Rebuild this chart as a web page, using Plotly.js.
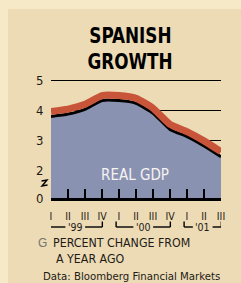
<!DOCTYPE html>
<html>
<head>
<meta charset="utf-8">
<script src="https://cdn.plot.ly/plotly-3.0.1.min.js"></script>
<style>
html,body{margin:0;padding:0;background:#f6e9c8;}
#chart{width:241px;height:283px;}
</style>
</head>
<body>
<div id="chart"></div>
<script>
// ---- data ----
const quarters = ['I','II','III','IV','I','II','III','IV','I','II','III'];
const quarterYear = ["'99","'99","'99","'99","'00","'00","'00","'00","'01","'01","'01"];
const gdp = [3.8, 3.88, 4.04, 4.33, 4.33, 4.24, 3.91, 3.37, 3.13, 2.82, 2.46];
const yTickLabels = ['0','2','3','4','5'];
const yTickNumbers = [null, 2, 3, 4, 5]; // first tick is the broken-axis zero

// ---- layout constants ----
const W = 241, H = 283;
const L = 51, R = 221, T = 75, B = 198;
const yBottom = 1.083, yTop = 5.183;
const shadowOffset = 0.167;
const NARROW = "'DejaVu Sans Condensed', 'Liberation Sans Narrow', Lato, sans-serif";
const TEXT = '#1e1a16';

const px2x = px => (px - L) / (R - L);
const px2y = py => (B - py) / (B - T);

const xIdx = quarters.map((_, i) => i);
const yTickVals = yTickNumbers.map(v => v === null ? yBottom : v);

const traces = [
  {
    x: xIdx, y: gdp, type: 'scatter', mode: 'lines',
    fill: 'tozeroy', fillcolor: '#8a92b1',
    line: {color: '#000', width: 3, shape: 'spline', smoothing: 0.5},
    hoverinfo: 'skip', showlegend: false
  },
  {
    x: xIdx, y: gdp, type: 'scatter', mode: 'lines', yaxis: 'y2',
    line: {color: '#c8553a', width: 7, shape: 'spline', smoothing: 0.5},
    hoverinfo: 'skip', showlegend: false
  }
];

const shapes = [
  {type:'rect', xref:'paper', yref:'paper', layer:'below',
   x0: px2x(8), x1: px2x(W + 2), y0: px2y(9), y1: px2y(H + 2),
   fillcolor:'#ecdbb5', line:{width:0}},
  // axis-break symbol
  {type:'path', xref:'paper', yref:'paper',
   path: `M ${px2x(41.5)},${px2y(181)} L ${px2x(47)},${px2y(180)} L ${px2x(42)},${px2y(186)} L ${px2x(47.5)},${px2y(185)}`,
   line:{color:'#000', width:1.4}}
];
const annotations = [];
const yearNames = [...new Set(quarterYear)];
const brTop = px2y(221.5), brMid = px2y(227), yrText = px2y(226.7);
yearNames.forEach(yr => {
  const idx = xIdx.filter(i => quarterYear[i] === yr);
  const x0 = idx[0] - 0.17, x1 = idx[idx.length - 1] + 0.02;
  const c = (x0 + x1) / 2;
  const gap = 0.58;
  const line = {color:'#000', width:1.4};
  shapes.push({type:'line', xref:'x', yref:'paper', x0:x0, x1:x0, y0:brTop, y1:brMid, line});
  shapes.push({type:'line', xref:'x', yref:'paper', x0:x0, x1:c - gap, y0:brMid, y1:brMid, line});
  shapes.push({type:'line', xref:'x', yref:'paper', x0:c + gap, x1:x1, y0:brMid, y1:brMid, line});
  shapes.push({type:'line', xref:'x', yref:'paper', x0:x1, x1:x1, y0:brTop, y1:brMid, line});
  annotations.push({xref:'x', yref:'paper', x:c, y:yrText, text:yr, showarrow:false,
    xanchor:'center', yanchor:'middle', font:{family:NARROW, size:10.5, color:TEXT}});
});

annotations.push(
  {xref:'paper', yref:'paper', x:px2x(130), y:px2y(35), text:'<b>SPANISH</b>', showarrow:false,
   xanchor:'center', yanchor:'middle', borderpad:0,
   font:{family:NARROW, size:22, color:'#000'}},
  {xref:'paper', yref:'paper', x:px2x(130), y:px2y(61.5), text:'<b>GROWTH</b>', showarrow:false,
   xanchor:'center', yanchor:'middle', borderpad:0,
   font:{family:NARROW, size:22, color:'#000'}},
  {xref:'paper', yref:'paper', x:px2x(135), y:px2y(174.5), text:'REAL GDP', showarrow:false,
   xanchor:'center', yanchor:'middle', font:{family:NARROW, size:15, color:'#f6f2f2'}},
  {xref:'paper', yref:'paper', x:px2x(35.5), y:px2y(243.3), text:'G', showarrow:false,
   xanchor:'left', yanchor:'middle', font:{family:"'Liberation Sans', sans-serif", size:12, color:'#77736e'}},
  {xref:'paper', yref:'paper', x:px2x(50.5), y:px2y(243.3), text:'PERCENT CHANGE FROM', showarrow:false,
   xanchor:'left', yanchor:'middle', font:{family:NARROW, size:12.3, color:TEXT}},
  {xref:'paper', yref:'paper', x:px2x(54), y:px2y(259), text:'A YEAR AGO', showarrow:false,
   xanchor:'left', yanchor:'middle', font:{family:NARROW, size:12.3, color:TEXT}},
  {xref:'paper', yref:'paper', x:px2x(40.5), y:px2y(276), text:'Data: Bloomberg Financial Markets', showarrow:false,
   xanchor:'left', yanchor:'middle', font:{family:NARROW, size:11.3, color:TEXT}}
);

const layout = {
  width: W, height: H,
  margin: {l: L, r: W - R, t: T, b: H - B, pad: 0},
  paper_bgcolor: '#f6e9c8',
  plot_bgcolor: 'rgba(0,0,0,0)',
  showlegend: false,
  xaxis: {
    range: [0, quarters.length - 1], tickvals: xIdx, ticktext: quarters,
    ticks: 'inside', ticklen: 9, tickwidth: 2, tickcolor: '#000',
    showline: true, linecolor: '#000', linewidth: 3,
    showgrid: false, zeroline: false, fixedrange: true,
    tickfont: {family: NARROW, size: 10.5, color: TEXT},
    ticklabelstandoff: 6
  },
  yaxis: {
    range: [yBottom, yTop], tickvals: yTickVals, ticktext: yTickLabels,
    ticks: 'outside', ticklen: 4, tickcolor: 'rgba(0,0,0,0)',
    showgrid: true, gridcolor: '#000', gridwidth: 1.2,
    showline: false, zeroline: false, fixedrange: true,
    tickfont: {family: NARROW, size: 13, color: TEXT}
  },
  yaxis2: {
    overlaying: 'y', range: [yBottom - shadowOffset, yTop - shadowOffset],
    visible: false, fixedrange: true
  },
  shapes: shapes,
  annotations: annotations
};

Plotly.newPlot('chart', traces, layout, {staticPlot: true, displayModeBar: false}).then(gd => {
  // compress the heavy title horizontally, like the condensed display face of the original
  gd.querySelectorAll('.annotation-text').forEach(t => {
    if (/SPANISH|GROWTH/.test(t.textContent)) {
      const bb = t.getBBox();
      const cx = bb.x + bb.width / 2;
      t.setAttribute('transform', `translate(${cx},0) scale(0.85,1) translate(${-cx},0)`);
    }
  });
});
</script>
</body>
</html>
